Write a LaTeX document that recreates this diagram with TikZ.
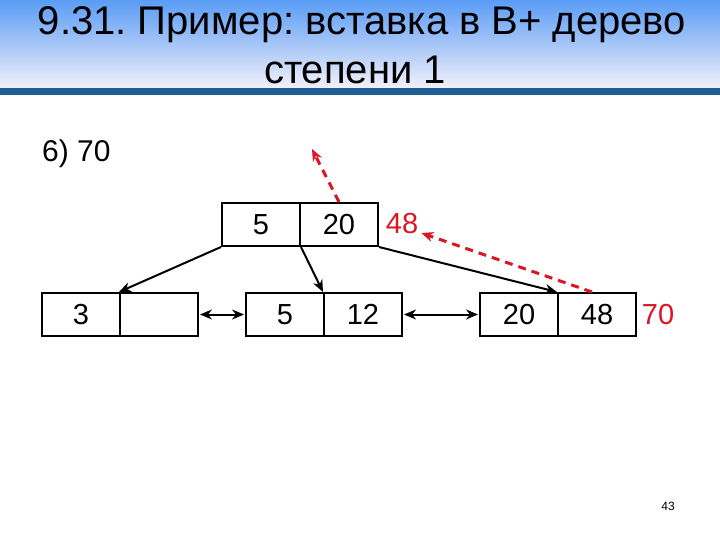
\documentclass[tikz,border=0pt]{standalone}
\usepackage{fontspec}
\setmainfont{Liberation Sans}
\usetikzlibrary{arrows.meta,calc}
\definecolor{redarr}{RGB}{220,20,35}
\definecolor{topblue}{RGB}{90,156,245}
\definecolor{lowblue}{RGB}{242,240,250}
\definecolor{barblue}{RGB}{30,95,150}
\tikzset{
  cell/.style={draw,line width=2pt,minimum width=78pt,minimum height=43pt,inner sep=0pt,font=\fontsize{29}{32}\selectfont},
  ptr/.style={line width=2pt,-{Stealth[length=12pt,width=10pt]}},
  dptr/.style={line width=2pt,{Stealth[length=12pt,width=10pt]}-{Stealth[length=12pt,width=10pt]}},
  redptr/.style={draw=redarr,line width=3pt,dash pattern=on 8pt off 6pt,-{Stealth[length=12pt,width=10pt]}},
  redtxt/.style={text=redarr,font=\fontsize{29}{32}\selectfont,inner sep=0pt},
}
\begin{document}
\frenchspacing
\begin{tikzpicture}[x=1pt,y=-1pt]
\useasboundingbox (0,0) rectangle (720,540);
\shade[top color=topblue,bottom color=lowblue] (0,0) rectangle (720,88);
\fill[barblue] (0,88) rectangle (720,95);
\node[anchor=base,inner sep=0pt,font=\fontsize{40}{44}\selectfont] (title1) at (362,35) {9.31. Пример: вставка в B+ дерево};
\node[anchor=base,inner sep=0pt,font=\fontsize{40}{44}\selectfont] (title2) at (355,84) {степени 1};
\node[anchor=base west,inner sep=0pt,font=\fontsize{30}{34}\selectfont] (step6) at (42,162) {6) 70};
% top node
\node[cell] (t1) at (261,224.5) {5};
\node[cell] (t2) at (339,224.5) {20};
\node[redtxt] (r48) at (402,224) {48};
% leaves
\node[cell] (l1a) at (81,314.5) {3};
\node[cell] (l1b) at (159,314.5) {};
\node[cell] (l2a) at (285,314.5) {5};
\node[cell] (l2b) at (363,314.5) {12};
\node[cell] (l3a) at (519,314.5) {20};
\node[cell] (l3b) at (597,314.5) {48};
\node[redtxt] (r70) at (658,314.5) {70};
% pointers
\draw[ptr] (t1.south west) -- (l1b.north west);
\draw[ptr] (t1.south east) -- (l2b.north west);
\draw[ptr] (t2.south east) -- (l3b.north west);
\draw[dptr,shorten <=1pt,shorten >=1pt] (l1b.east) -- (l2a.west);
\draw[dptr,shorten <=1pt,shorten >=1pt] (l2b.east) -- (l3a.west);
% red
\coordinate (up) at (312,149);
\draw[redptr] (t2.north) -- (up);
\draw[redptr] ($(l3b.north)+(-5,0)$) -- ($(r48.east)+(3,9)$);
\node[font=\fontsize{12}{14}\selectfont] (pg) at (668,506) {43};
\end{tikzpicture}
\end{document}
